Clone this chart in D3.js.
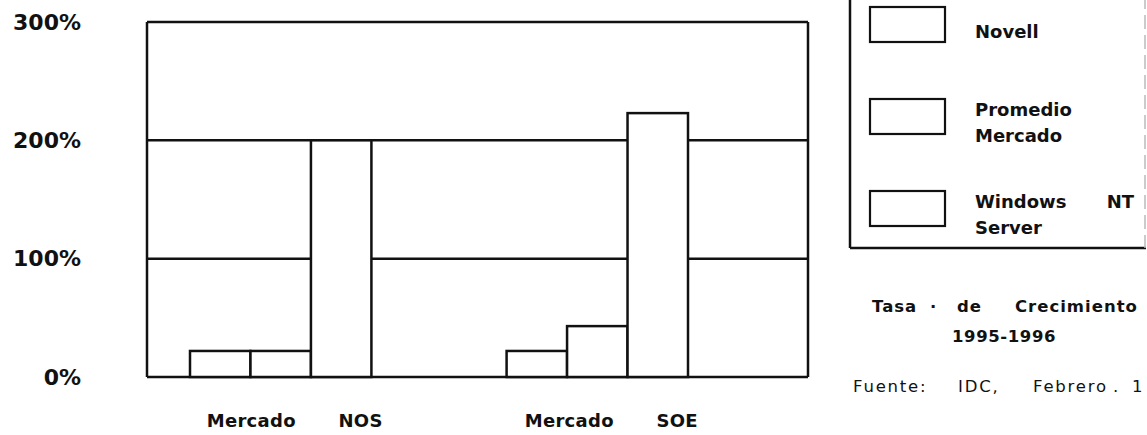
<!DOCTYPE html>
<html>
<head>
<meta charset="utf-8">
<script src="https://cdn.jsdelivr.net/npm/d3@7"></script>
<style>
body{margin:0;background:#fff;}
svg{display:block;}
text{fill:#111;}
</style>
</head>
<body>
<svg id="chart" width="1147" height="435"></svg>
<script>
// datos del grafico (tasa de crecimiento 1995-1996)
var groups=["Mercado NOS","Mercado SOE"];
var series=["Novell","Promedio Mercado","Windows NT Server"];
var novell=[22,22];
var promedio=[22,43];
var windowsNT=[200,223];
var yTicks=[0,100,200,300];
var legendLabels=[["Novell"],["Promedio","Mercado"],["Windows NT","Server"]];
var titleWords=["Tasa","·","de","Crecimiento"];
var titleYears="1995-1996";
var sourceWords=["Fuente:","IDC,","Febrero",".","1"];

var values=[novell,promedio,windowsNT];
var svg=d3.select("#chart");
var bold="'DejaVu Sans',sans-serif";

var pLeft=147,pRight=808,pTop=22,pBottom=377;
var y=d3.scaleLinear().domain([0,300]).range([pBottom,pTop]);
var x0=d3.scaleBand().domain(groups).range([190,688]).paddingInner(0.427);
var x1=d3.scaleBand().domain(series).range([0,x0.bandwidth()]);

/*ejes y lineas de rejilla*/
var yAxis=svg.append("g").attr("transform","translate("+pLeft+",0)")
	.call(d3.axisLeft(y).tickValues(yTicks).tickSize(0).tickPadding(66).tickFormat(function(d){return d+"%";}));
yAxis.select(".domain").remove();
yAxis.selectAll("text").attr("font-family",bold).attr("font-weight","bold").attr("font-size","22px").attr("fill","#111");

svg.append("g").selectAll("line").data(yTicks).enter().append("line")
	.attr("x1",pLeft).attr("x2",pRight)
	.attr("y1",function(d){return y(d);}).attr("y2",function(d){return y(d);})
	.attr("stroke","#111").attr("stroke-width",2.5);
svg.append("line").attr("x1",pLeft).attr("x2",pLeft).attr("y1",pTop).attr("y2",pBottom).attr("stroke","#111").attr("stroke-width",2.5);
svg.append("line").attr("x1",pRight).attr("x2",pRight).attr("y1",pTop).attr("y2",pBottom).attr("stroke","#111").attr("stroke-width",2.5);

/*barras*/
var gGroups=svg.append("g").selectAll("g").data(groups).enter().append("g")
	.attr("transform",function(d){return "translate("+x0(d)+",0)";});
gGroups.selectAll("rect").data(function(d,i){
	return series.map(function(s,j){return {s:s,v:values[j][i]};});
}).enter().append("rect")
	.attr("x",function(d){return x1(d.s);})
	.attr("y",function(d){return y(d.v);})
	.attr("width",x1.bandwidth())
	.attr("height",function(d){return pBottom-y(d.v);})
	.attr("fill","#fff").attr("stroke","#111").attr("stroke-width",2.5);

/*etiquetas de categorias*/
svg.append("g").selectAll("text").data(groups).enter().append("text")
	.attr("x",function(d){return x0(d)+x0.bandwidth()/2+14;})
	.attr("y",427)
	.attr("text-anchor","middle")
	.attr("font-family",bold).attr("font-weight","bold").attr("font-size","18px")
	.attr("letter-spacing","0.3px")
	.attr("word-spacing","36px")
	.text(function(d){return d;});

/*leyenda*/
var legend=svg.append("g");
legend.append("line").attr("x1",850).attr("x2",850).attr("y1",-5).attr("y2",248).attr("stroke","#111").attr("stroke-width",2.5);
legend.append("line").attr("x1",850).attr("x2",1146).attr("y1",248).attr("y2",248).attr("stroke","#111").attr("stroke-width",2.5);
legend.append("line").attr("x1",1145).attr("x2",1145).attr("y1",-5).attr("y2",248).attr("stroke","#bbb").attr("stroke-width",1.5).attr("stroke-dasharray","14,6");
var items=legend.selectAll(".item").data(series).enter().append("g").attr("class","item")
	.attr("transform",function(d,i){return "translate(870,"+(7+i*92)+")";});
items.append("rect").attr("width",75).attr("height",35)
	.attr("fill","#fff").attr("stroke","#111").attr("stroke-width",2.2);
items.append("text")
	.attr("font-family",bold).attr("font-weight","bold").attr("font-size","18px")
	.attr("word-spacing","34px")
	.each(function(d,i){
		var t=d3.select(this);
		var lines=legendLabels[i];
		var y0=lines.length==1?31:17;
		lines.forEach(function(l,k){
			t.append("tspan").attr("x",105).attr("y",y0+k*26).text(l);
		});
	});

/*titulo y fuente*/
var titleX=[872,930,957,1015];
svg.append("text").attr("y",312)
	.attr("font-family",bold).attr("font-weight","bold").attr("font-size","16.5px")
	.attr("letter-spacing","1px")
	.selectAll("tspan").data(titleWords).enter().append("tspan")
	.attr("x",function(d,i){return titleX[i];}).text(function(d){return d;});
svg.append("text").attr("x",952).attr("y",342)
	.attr("font-family",bold).attr("font-weight","bold").attr("font-size","16.5px")
	.attr("letter-spacing","0.6px")
	.text(titleYears);
var sourceX=[853,958,1033,1113,1132];
svg.append("text").attr("y",392)
	.attr("font-family","'DejaVu Sans',sans-serif").attr("font-size","16.5px")
	.attr("letter-spacing","1.8px")
	.selectAll("tspan").data(sourceWords).enter().append("tspan")
	.attr("x",function(d,i){return sourceX[i];}).text(function(d){return d;});
</script>
</body>
</html>
